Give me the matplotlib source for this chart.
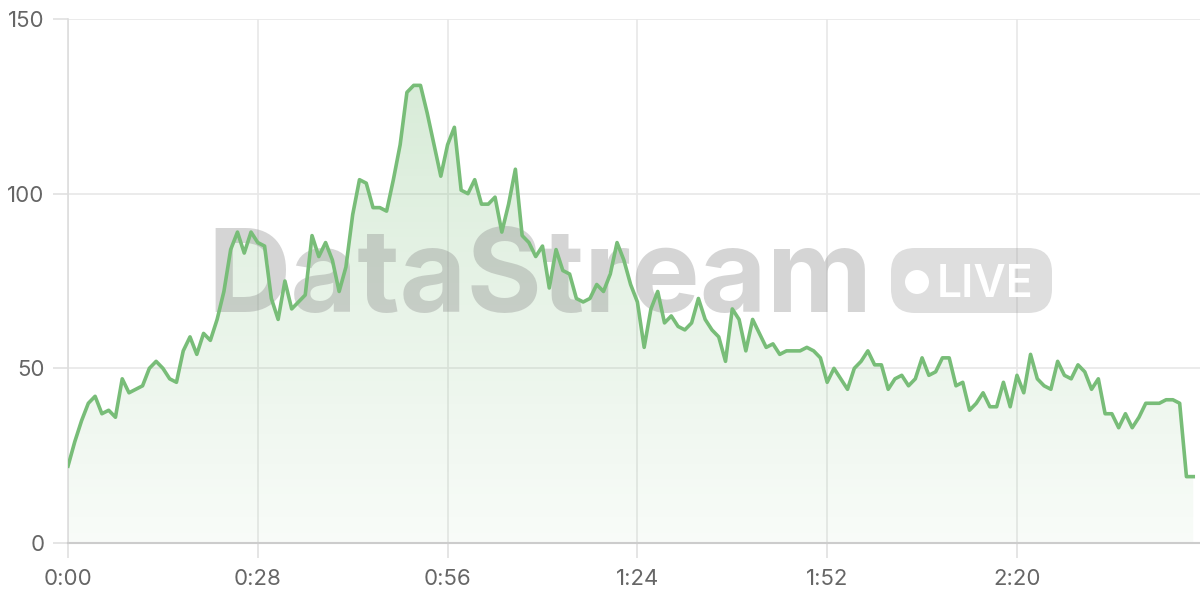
import numpy as np
import matplotlib.pyplot as plt
from matplotlib.patches import FancyBboxPatch, Circle
from matplotlib.transforms import IdentityTransform

# values, one sample per second
values = [22, 29, 35, 40, 42, 37, 38, 36, 47, 43, 44, 45, 50, 52, 50, 47, 46, 55, 59, 54,
          60, 58, 64, 72, 84, 89, 83, 89, 86, 85, 70, 64, 75, 67, 69, 71, 88, 82, 86, 81,
          72, 79, 94, 104, 103, 96, 96, 95, 104, 114, 129, 131, 131, 123, 114, 105, 114, 119, 101, 100,
          104, 97, 97, 99, 89, 97, 107, 88, 86, 82, 85, 73, 84, 78, 77, 70, 69, 70, 74, 72,
          77, 86, 81, 74, 69, 56, 67, 72, 63, 65, 62, 61, 63, 70, 64, 61, 59, 52, 67, 64,
          55, 64, 60, 56, 57, 54, 55, 55, 55, 56, 55, 53, 46, 50, 47, 44, 50, 52, 55, 51,
          51, 44, 47, 48, 45, 47, 53, 48, 49, 53, 53, 45, 46, 38, 40, 43, 39, 39, 46, 39,
          48, 43, 54, 47, 45, 44, 52, 48, 47, 51, 49, 44, 47, 37, 37, 33, 37, 33, 36, 40,
          40, 40, 41, 41, 40, 19, 19]
xticks = [0, 28, 56, 84, 112, 140]
xtick_labels = ['0:00', '0:28', '0:56', '1:24', '1:52', '2:20']
yticks = [0, 50, 100, 150]

plt.rcParams['font.family'] = ['Inter', 'DejaVu Sans']

t = np.arange(len(values))
y = np.array(values)
green = '#78bd78'

fig = plt.figure(figsize=(12, 6), dpi=100)
ax = fig.add_axes([68/1200, 57/600, 1132/1200, 524/600])
ax.set_xlim(0, 167)
ax.set_ylim(0, 150)

# gradient fill under the line
poly = ax.fill_between(t, y, 0, color='none', lw=0)
grad = np.zeros((256, 1, 4))
grad[:, 0, :3] = [0.47, 0.74, 0.47]
grad[:, 0, 3] = np.linspace(0.32, 0.05, 256)
im = ax.imshow(grad, extent=[0, 167, 0, 150], origin='upper', aspect='auto', zorder=1)
path = poly.get_paths()[0]
im.set_clip_path(path, transform=ax.transData)

ax.plot(t, y, color=green, lw=2.6, zorder=4)

# watermark
ax.text(540, 288, 'DataStream', transform=IdentityTransform(), fontsize=83, fontweight='bold',
        color='#888888', alpha=0.35, ha='center', va='baseline', zorder=2)
pill = FancyBboxPatch((891, 600-313), 161, 65, boxstyle='round,pad=0,rounding_size=24',
                      transform=IdentityTransform(), fc='#999999', ec='none', alpha=0.32,
                      zorder=2, clip_on=False)
ax.add_patch(pill)
ax.add_patch(Circle((917, 600-282), 12, transform=IdentityTransform(), fc='white', ec='none',
                    zorder=3, clip_on=False))
ax.text(937, 600-297, 'LIVE', transform=IdentityTransform(), fontsize=32, fontweight='semibold',
        color='white', ha='left', va='baseline', zorder=3)

ax.set_xticks(xticks)
ax.set_xticklabels(xtick_labels)
ax.set_yticks(yticks)
ax.grid(True, color='#e8e8e8', lw=1.2, zorder=0)
ax.set_axisbelow(True)
for s in ['top', 'right']:
    ax.spines[s].set_visible(False)
ax.spines['left'].set_color('#dddddd')
ax.spines['left'].set_linewidth(1.2)
ax.spines['bottom'].set_color('#cccccc')
ax.spines['bottom'].set_linewidth(1.5)
ax.tick_params(axis='both', length=11, width=1.2, color='#e0e0e0', labelcolor='#666666',
               labelsize=16)
ax.tick_params(axis='x', pad=8)
ax.tick_params(axis='y', pad=6)

fig.savefig('out.png', dpi=100)
